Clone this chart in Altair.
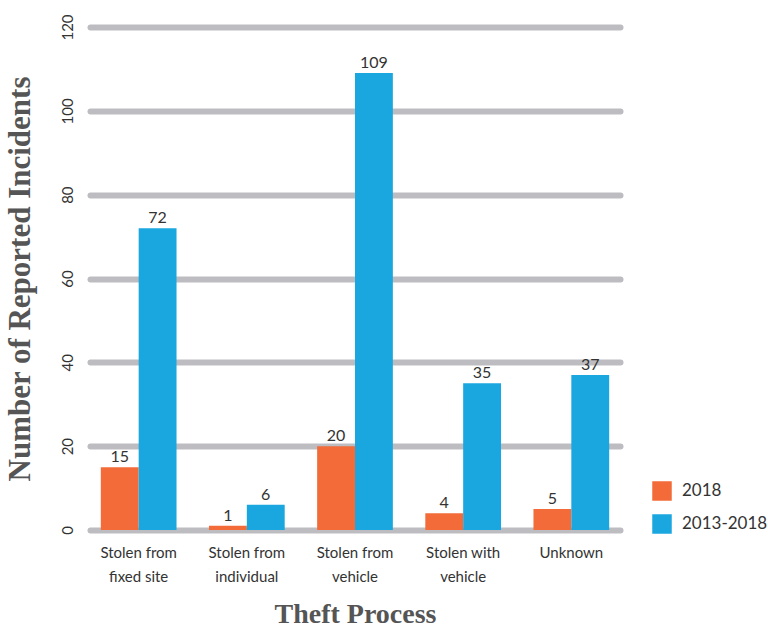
import altair as alt
import pandas as pd

categories = ["Stolen from\nfixed site", "Stolen from\nindividual", "Stolen from\nvehicle",
              "Stolen with\nvehicle", "Unknown"]
series = ["2018", "2013-2018"]
values_2018 = [15, 1, 20, 4, 5]
values_2013_2018 = [72, 6, 109, 35, 37]
colors = ["#F26B38", "#1AA7DF"]

rows = []
for c, a, b in zip(categories, values_2018, values_2013_2018):
    rows.append({"cat": c, "series": series[0], "value": a})
    rows.append({"cat": c, "series": series[1], "value": b})
df = pd.DataFrame(rows)

x = alt.X("cat:N", sort=categories, title="Theft Process",
          scale=alt.Scale(paddingInner=0.3, paddingOuter=0.1),
          axis=alt.Axis(labelAngle=0, labelExpr="split(datum.label, '\\n')",
                        labelFont="Lato", labelFontSize=15, labelColor="#333333",
                        labelPadding=15, labelLineHeight=24,
                        domain=False, ticks=False,
                        titleFont="Liberation Serif", titleFontSize=28, titleFontWeight="bold",
                        titleColor="#555555", titlePadding=16))
y = alt.Y("value:Q", title="Number of Reported Incidents",
          scale=alt.Scale(domain=[0, 120], nice=False),
          axis=alt.Axis(values=[0, 20, 40, 60, 80, 100, 120], labelAngle=-90,
                        labelAlign="center", labelBaseline="middle",
                        labelFont="Lato", labelFontSize=15, labelColor="#333333",
                        labelPadding=23, domain=False, ticks=False,
                        grid=True, gridWidth=6, gridColor="#BDBDC1", gridCap="round",
                        titleFont="Liberation Serif", titleFontSize=31, titleFontWeight="bold",
                        titleColor="#555555", titlePadding=24))
xo = alt.XOffset("series:N", sort=series)

bars = alt.Chart(df).mark_bar().encode(
    x=x, y=y, xOffset=xo,
    color=alt.Color("series:N", sort=series,
                    scale=alt.Scale(domain=series, range=colors),
                    legend=alt.Legend(title=None, orient="none", legendX=562, legendY=454,
                                      symbolType="square", symbolSize=380,
                                      symbolStrokeWidth=0, labelFont="Lato",
                                      labelFontSize=17, labelColor="#333333",
                                      rowPadding=13, labelOffset=10)),
)
labels = alt.Chart(df).mark_text(dy=-10, font="Lato", fontSize=16, color="#333333").encode(
    x=x, y=y, xOffset=xo, text="value:Q")

chart = (bars + labels).properties(
    width=530, height=503,
    autosize=alt.AutoSizeParams(type="none"),
    padding={"left": 90, "top": 27, "right": 148, "bottom": 100},
).configure_view(stroke=None)

chart.save("out.html", embed_options={"renderer": "svg", "actions": False})
